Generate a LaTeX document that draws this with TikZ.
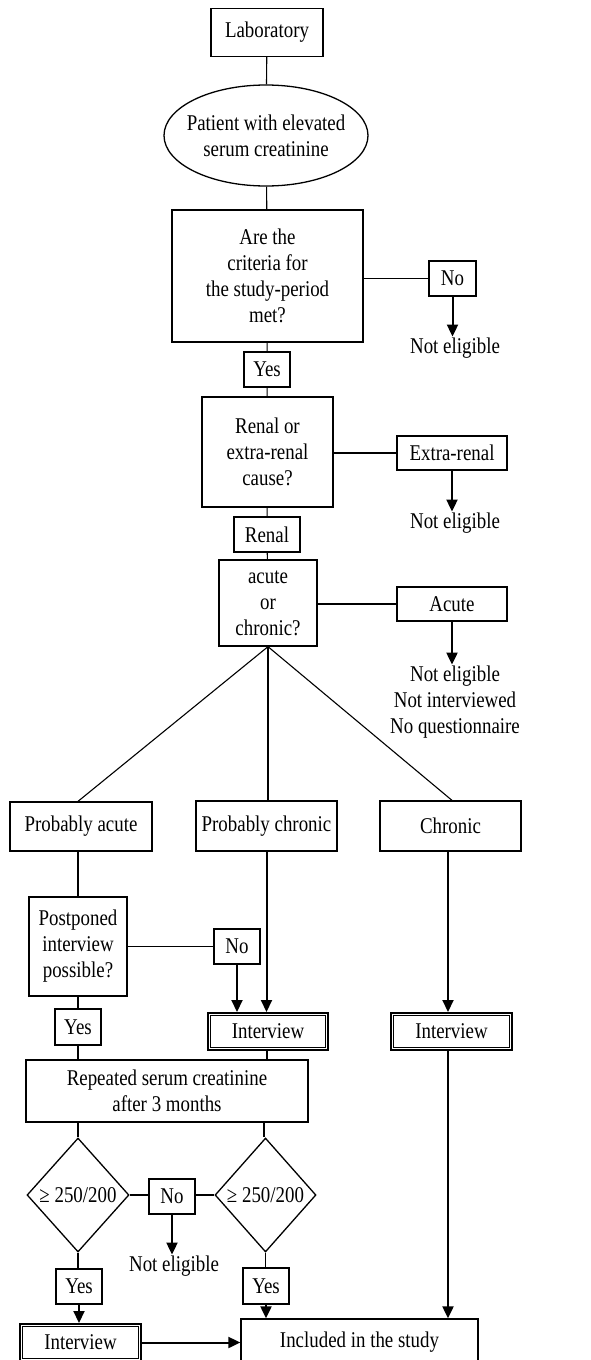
\documentclass[tikz,border=0pt]{standalone}
\usepackage{fontspec}
\setmainfont{Liberation Serif}[FakeStretch=0.84]
\usetikzlibrary{shapes.geometric,arrows.meta}
\tikzset{
  base/.style={inner sep=0pt, align=center, font=\fontsize{22.5pt}{26pt}\selectfont},
  box/.style={base, draw, line width=1.3pt, rectangle},
  intbox/.style={base, draw, line width=2pt, rectangle},
  oval/.style={base, draw, line width=1.3pt, ellipse},
  dia/.style={base, draw, line width=1.3pt, diamond},
  txt/.style={base},
  ln/.style={line width=1.1pt},
  arr/.style={line width=2pt, -{Triangle[length=12pt,width=11pt]}},
}
\begin{document}
\begin{tikzpicture}[x=1pt,y=-1pt]
\useasboundingbox (0,0) rectangle (590,1360);
\clip (0,0) rectangle (590,1360);
% nodes
\node[box, minimum width=112pt, minimum height=48pt] (lab) at (267,32.5) {Laboratory};
\node[oval, minimum width=204pt, minimum height=101pt,
      label={[base]center:Patient with elevated\\serum creatinine}] (pat) at (266,135.5) {};
\node[box, minimum width=191pt, minimum height=132pt] (crit) at (267.5,276) {Are the\\criteria for\\the study-period\\met?};
\node[box, minimum width=47pt, minimum height=35pt] (no1) at (452.5,278.5) {No};
\node[txt] (ne1) at (455,348) {Not eligible};
\node[box, minimum width=46pt, minimum height=35pt] (yes1) at (267,369.5) {Yes};
\node[box, minimum width=131pt, minimum height=110pt] (renq) at (267.5,452) {Renal or\\extra-renal\\cause?};
\node[box, minimum width=110pt, minimum height=34pt] (extra) at (452,453) {Extra-renal};
\node[txt] (ne2) at (455,523) {Not eligible};
\node[box, minimum width=66pt, minimum height=35pt] (renal) at (267,534.5) {Renal};
\node[box, minimum width=98pt, minimum height=86pt] (acq) at (268,603) {acute\\or\\chronic?};
\node[box, minimum width=110pt, minimum height=34pt] (acute) at (452,604) {Acute};
\node[txt] (ne3) at (455,702) {Not eligible\\Not interviewed\\No questionnaire};
\node[box, minimum width=142pt, minimum height=49pt] (pa) at (81,826.5) {Probably acute};
\node[box, minimum width=141pt, minimum height=50pt] (pc) at (266.5,826) {Probably chronic};
\node[box, minimum width=141pt, minimum height=50pt] (chr) at (450.5,826) {Chronic};
\node[box, minimum width=98pt, minimum height=99pt] (pp) at (78,946.5) {Postponed\\interview\\possible?};
\node[box, minimum width=46pt, minimum height=35pt] (no2) at (237,946.5) {No};
\node[intbox, minimum width=120pt, minimum height=37pt] (int1) at (268,1031.5) {Interview};
\node[intbox, minimum width=121pt, minimum height=37pt] (int2) at (451.5,1031.5) {Interview};
\node[box, minimum width=46pt, minimum height=36pt] (yes2) at (78,1027) {Yes};
\node[box, minimum width=282pt, minimum height=62pt] (rep) at (167,1091) {Repeated serum creatinine\\after 3 months};
\node[dia, minimum width=102pt, minimum height=114pt, label={[base]center:≥ 250/200}] (dl) at (78,1195) {};
\node[dia, minimum width=101pt, minimum height=114pt, label={[base]center:≥ 250/200}] (dr) at (265.5,1195) {};
\node[box, minimum width=46pt, minimum height=35pt] (no3) at (172,1196.5) {No};
\node[txt] (ne4) at (174,1266) {Not eligible};
\node[box, minimum width=46pt, minimum height=35pt] (yes3) at (79,1286.5) {Yes};
\node[box, minimum width=46pt, minimum height=36pt] (yes4) at (266,1286) {Yes};
\node[intbox, minimum width=121pt, minimum height=37pt] (int3) at (80.5,1342.5) {Interview};
\node[box, minimum width=237pt, minimum height=46pt] (inc) at (359.5,1342) {Included in the study};
\foreach \n in {int1,int2,int3}
  \draw[line width=0.9pt] ([shift={(3.3pt,3.3pt)}]\n.south west) rectangle ([shift={(-3.3pt,-3.3pt)}]\n.north east);
% connectors
\draw[ln] (lab) -- (pat);
\draw[ln] (pat) -- (crit);
\draw[ln] (no1.west -| crit.east) -- (no1.west);
\draw[arr] (no1.south) -- ([yshift=1pt]no1.south |- ne1.north);
\draw[ln] (crit) -- (yes1);
\draw[ln] (yes1) -- (renq);
\draw[ln] (extra.west -| renq.east) -- (extra.west);
\draw[arr] (extra.south) -- ([yshift=1pt]extra.south |- ne2.north);
\draw[ln] (renq) -- (renal);
\draw[ln] (renal) -- (acq);
\draw[ln] (acute.west -| acq.east) -- (acute.west);
\draw[arr] (acute.south) -- ([yshift=1pt]acute.south |- ne3.north);
\draw[ln] (acq.south) -- ([xshift=-3pt]pa.north);
\draw[ln] (acq.south) -- (acq.south |- pc.north);
\draw[ln] (acq.south) -- ([xshift=1.5pt]chr.north);
\draw[ln] ([xshift=-3pt]pa.south) -- (pp.north);
\draw[ln] (pp.east) -- (no2.west);
\draw[arr] (no2.south) -- (no2.south |- int1.north);
\draw[arr] (pc.south) -- (pc.south |- int1.north);
\draw[arr] ([xshift=-2.5pt]chr.south) -- ([xshift=-2.5pt]chr.south |- int2.north);
\draw[ln] (pp.south) -- (yes2.north);
\draw[ln] (yes2.south) -- (yes2.south |- rep.north);
\draw[ln] ([xshift=-1pt]int1.south) -- ([xshift=-1pt]int1.south |- rep.north);
\draw[ln] (rep.south -| dl.north) -- (dl.north);
\draw[ln] ([xshift=-1.5pt]rep.south -| dr.north) -- ([xshift=-1.5pt]dr.north);
\draw[ln] (dl.east) -- (no3.west |- dl.east);
\draw[ln] (no3.east |- dr.west) -- (dr.west);
\draw[arr] (no3.south) -- ([yshift=1pt]no3.south |- ne4.north);
\draw[ln] (dl.south) -- (dl.south |- yes3.north);
\draw[arr] (yes3.south) -- (yes3.south |- int3.north);
\draw[ln] (dr.south) -- (dr.south |- yes4.north);
\draw[arr] (yes4.south) -- (yes4.south |- inc.north);
\draw[arr] ([xshift=-3.5pt]int2.south) -- ([xshift=-3.5pt]int2.south |- inc.north);
\draw[arr] (int3.east) -- (int3.east -| inc.west);
\end{tikzpicture}
\end{document}
